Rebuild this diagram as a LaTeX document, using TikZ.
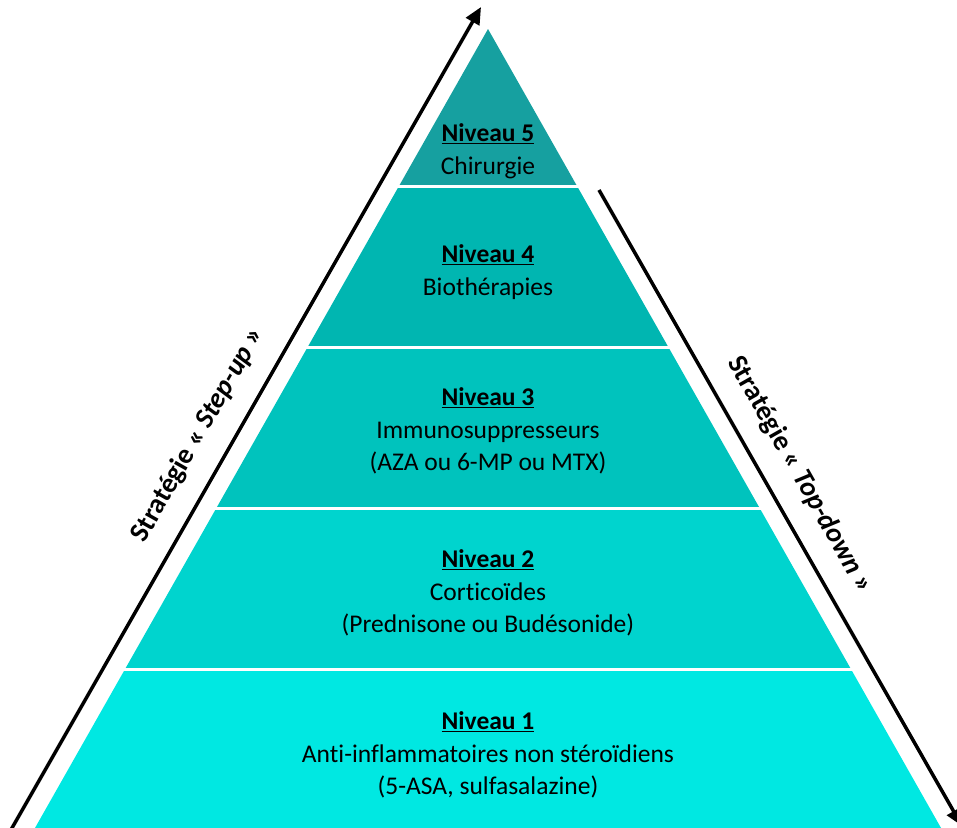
\documentclass[tikz,border=0pt]{standalone}
\usepackage{fontspec}
\setmainfont{Carlito}[Ligatures=NoCommon]
\usetikzlibrary{arrows.meta}
\definecolor{cA}{HTML}{16A0A0}
\definecolor{cB}{HTML}{00B6B1}
\definecolor{cC}{HTML}{00C3BD}
\definecolor{cD}{HTML}{00D4CE}
\definecolor{cE}{HTML}{00E8E2}
\tikzset{
  lvl/.style={font=\fontsize{25.5}{32.5}\selectfont, align=center, text=black, inner sep=0pt},
  sep/.style={draw=white, line width=3pt},
  strat/.style={draw=black, line width=3.5pt, -{Triangle[length=17pt,width=15pt]}},
  slab/.style={font=\fontsize{28}{32}\selectfont\bfseries, inner sep=0pt},
}
\begin{document}
\begin{tikzpicture}[x=1pt,y=-1pt]
\useasboundingbox (0,0) rectangle (957,827);
% pyramid layers
\fill[cE] (125.1,669) -- (850.9,669) -- (941.6,829) -- (34.4,829) -- cycle;
\fill[cD] (216.4,508) -- (759.6,508) -- (850.9,669) -- (125.1,669) -- cycle;
\fill[cC] (307.7,347) -- (668.3,347) -- (759.6,508) -- (216.4,508) -- cycle;
\fill[cB] (399.0,186) -- (577.0,186) -- (668.3,347) -- (307.7,347) -- cycle;
\fill[cA] (488,29) -- (577.0,186) -- (399.0,186) -- cycle;
\draw[sep] (380,186) -- (600,186);
\draw[sep] (290,347) -- (690,347);
\draw[sep] (200,508) -- (780,508);
\draw[sep] (110,669) -- (870,669);
% texts
\node[lvl] (n5) at (488,151) {\textbf{\underline{Niveau 5}}\\Chirurgie};
\node[lvl] (n4) at (488,272) {\textbf{\underline{Niveau 4}}\\Biothérapies};
\node[lvl] (n3) at (488,431) {\textbf{\underline{Niveau 3}}\\Immunosuppresseurs\\(AZA ou 6-MP ou MTX)};
\node[lvl] (n2) at (488,593) {\textbf{\underline{Niveau 2}}\\Corticoïdes\\(Prednisone ou Budésonide)};
\node[lvl] (n1) at (488,755) {\textbf{\underline{Niveau 1}}\\Anti-inflammatoires non stéroïdiens\\(5-ASA, sulfasalazine)};
% strategy arrows
\coordinate (su0) at (8,835);
\coordinate (su1) at (481,7);
\coordinate (td0) at (599,190);
\coordinate (td1) at (962,826);
\draw[strat] (su0) -- (su1);
\draw[strat] (td0) -- (td1);
\node[slab, rotate=60.4] (sul) at (198,435) {Stratégie « \textit{Step-up} »};
\node[slab, rotate=-60.4] (tdl) at (800,475) {Stratégie « \textit{Top-down} »};
\end{tikzpicture}
\end{document}
